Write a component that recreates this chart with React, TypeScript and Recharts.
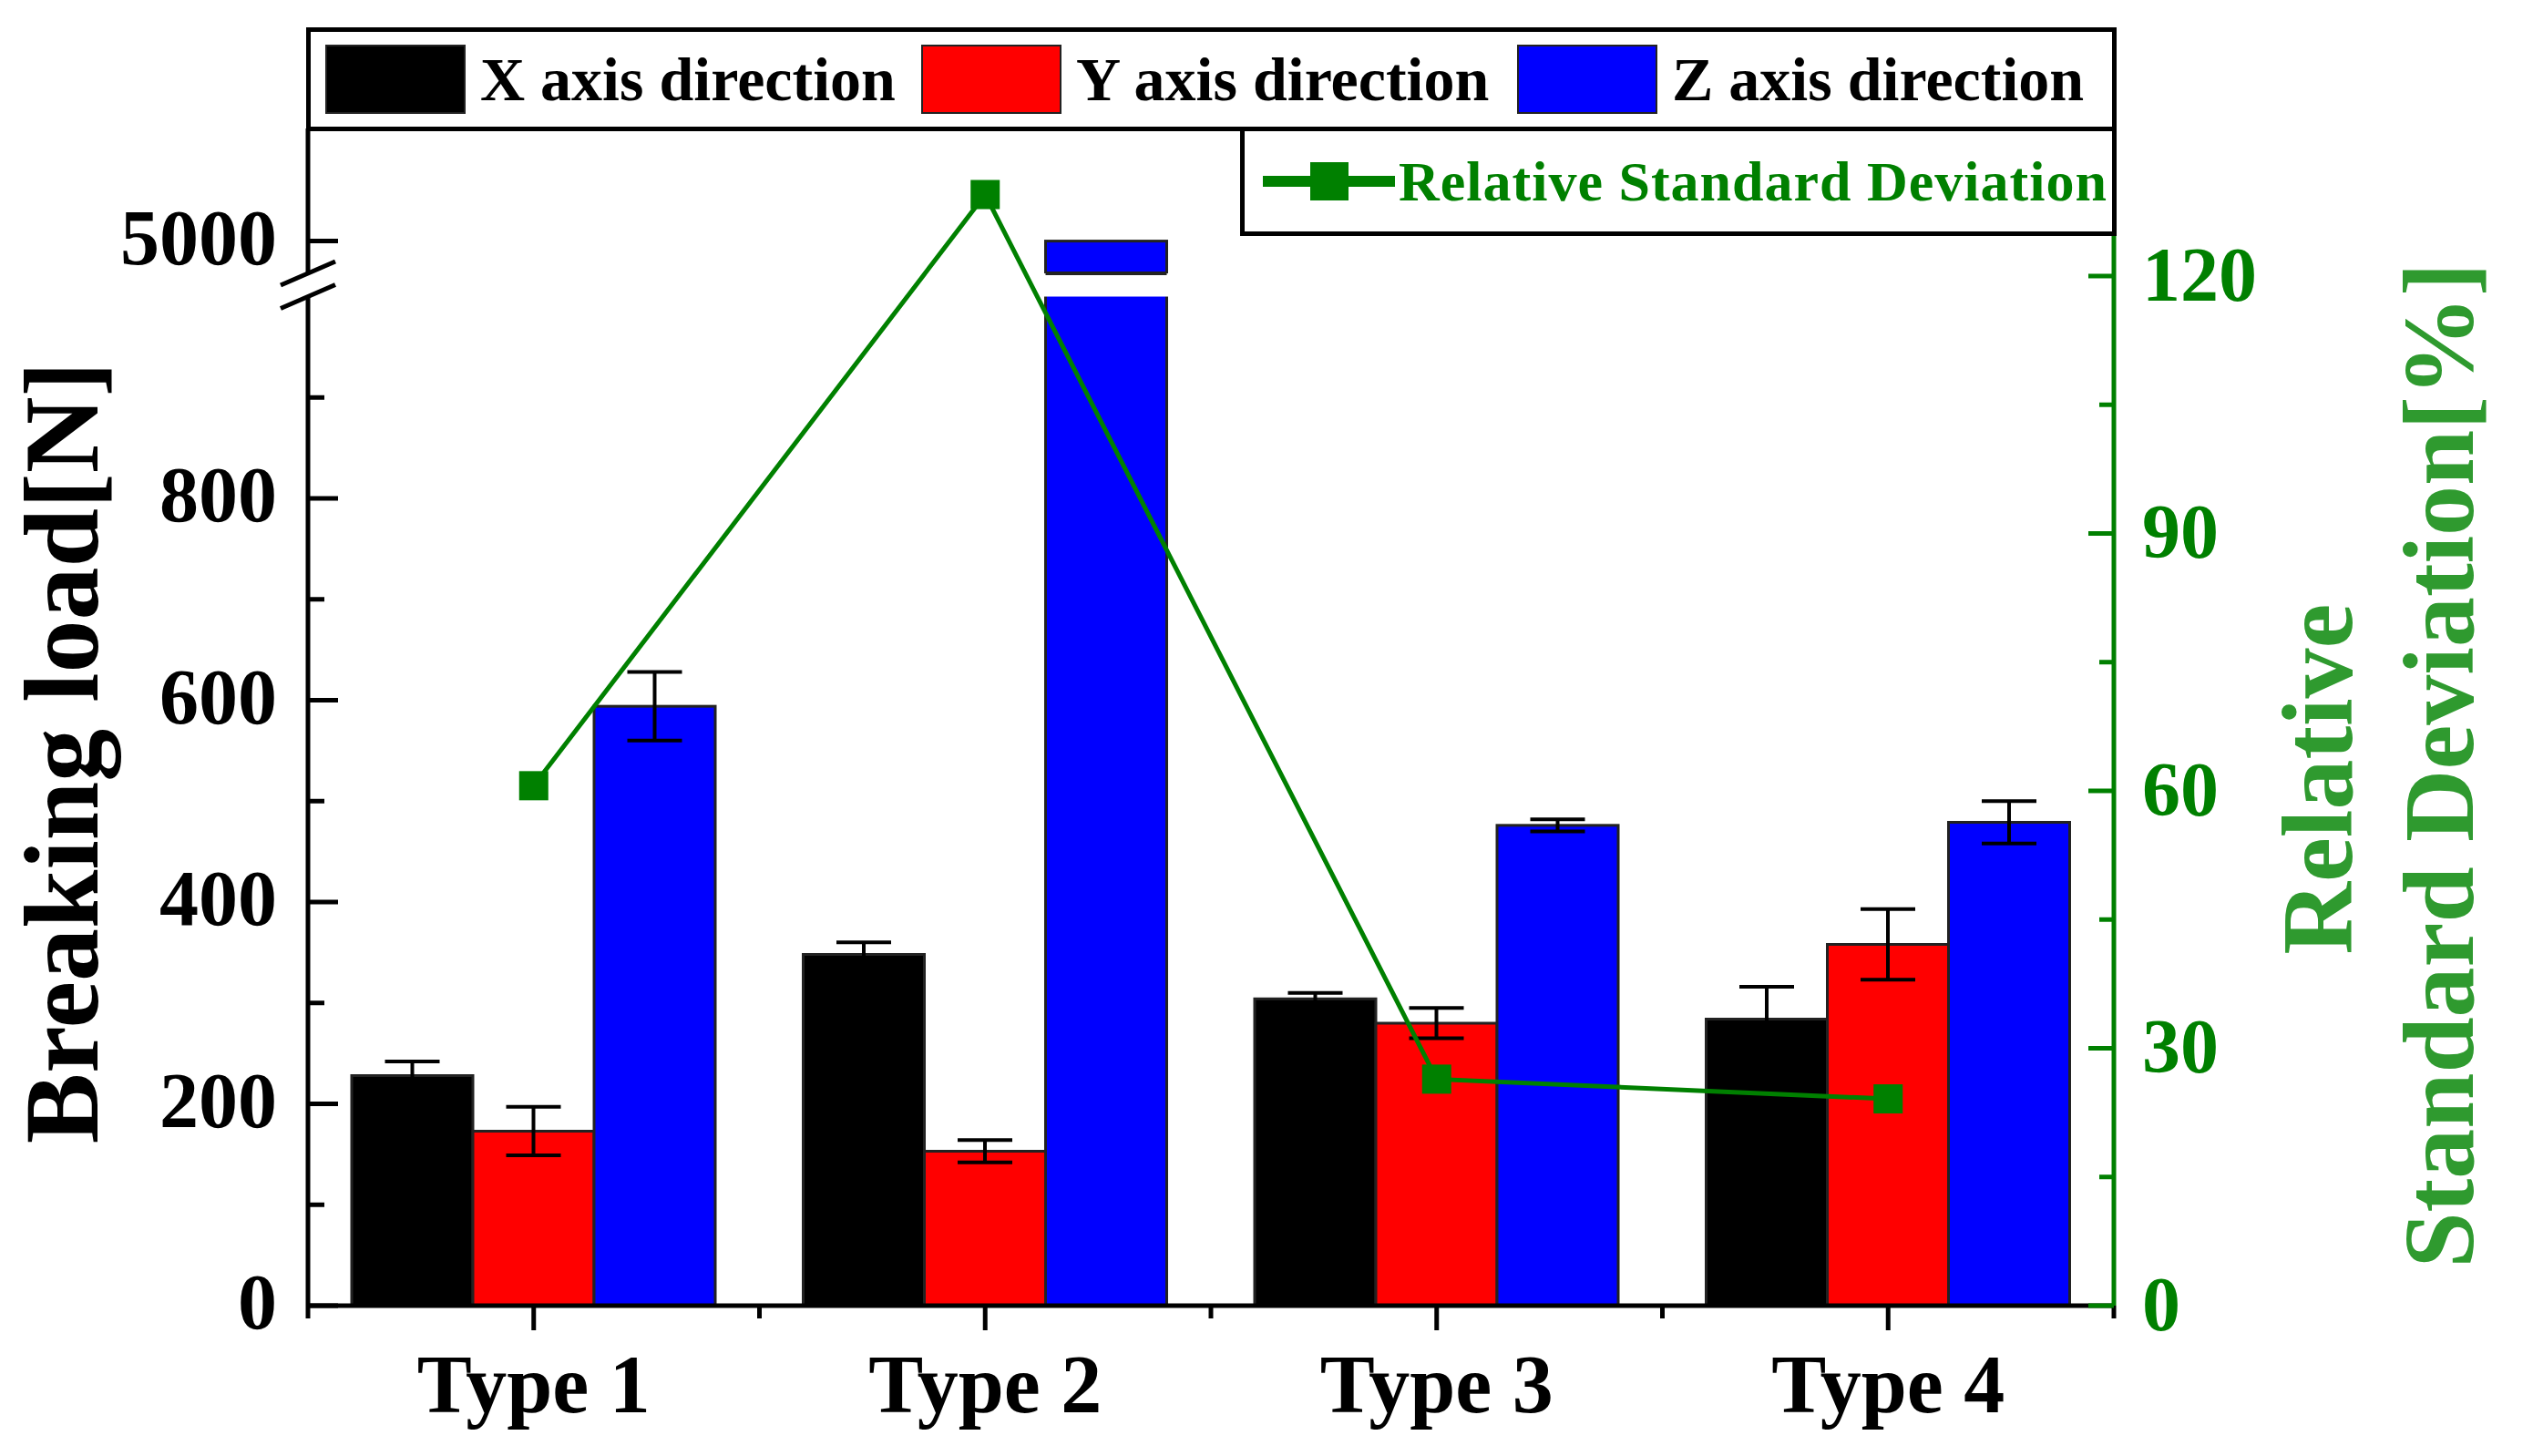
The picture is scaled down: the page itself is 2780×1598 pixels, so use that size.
import React from 'react'
import { ComposedChart, Bar, Line, XAxis, YAxis, ErrorBar, Legend } from 'recharts'

// values
const categories = ['Type 1', 'Type 2', 'Type 3', 'Type 4']
const xLoad = [228, 348, 304, 284]
const xErr = [14, 12, 6, 32]
const yLoad = [173, 153, 280, 358]
const yErr = [24, 11, 15, 35]
const zLoad = [594, 5000, 476, 479]
const zErr = [34, null, 6, 21]
const rsd = [60.6, 129.5, 26.4, 24.1]

const leftMajorTicks = [0, 200, 400, 600, 800, 5000]
const leftMinorTicks = [100, 300, 500, 700, 900]
const rightMajorTicks = [0, 30, 60, 90, 120]
const rightMinorTicks = [15, 45, 75, 105, 135]

const seriesNames = ['X axis direction', 'Y axis direction', 'Z axis direction']
const lineName = 'Relative Standard Deviation'

// broken left axis: [0, 1000] is linear, then a gap, then the 5000 region
const LOW_END = 1000
const GAP = 23
const HIGH_START = 4968
const toAxis = (v: number) => (v <= LOW_END ? v : LOW_END + GAP + (v - HIGH_START))
const BREAK_TICK = LOW_END + GAP / 2

const W = 2780
const H = 1598
const PLOT_TOP = 141
const PLOT_BOTTOM = 1433
const PLOT_H = PLOT_BOTTOM - PLOT_TOP
const LEFT_W = 338
const RIGHT_W = 460
const LEFT_MAX = 1166.6
const RIGHT_MAX = 137.2

const SERIF = "'Liberation Serif', 'Times New Roman', serif"
const GREEN = '#008000'
const TITLE_GREEN = '#2f9a2f'

const data = categories.map((name, i) => ({
  name,
  xT: toAxis(xLoad[i]),
  xE: xErr[i],
  yT: toAxis(yLoad[i]),
  yE: yErr[i],
  zT: toAxis(zLoad[i]),
  zE: zErr[i],
  rsd: rsd[i],
}))

const leftLabels = new Map(leftMajorTicks.map((v) => [toAxis(v), String(v)]))
const leftTicks = [...leftMajorTicks, ...leftMinorTicks].map(toAxis).concat(BREAK_TICK).sort((a, b) => a - b)
const rightTicks = [...rightMajorTicks, ...rightMinorTicks].sort((a, b) => a - b)

function LeftTick(props: any) {
  const { x, y, payload } = props
  const v = payload.value
  if (v === BREAK_TICK) {
    const half = (GAP / 2) * (PLOT_H / LEFT_MAX)
    return (
      <g>
        <rect x={x - 6} y={y - half} width={12} height={half * 2} fill="#fff" />
        <line x1={x - 30} y1={y - half + 13} x2={x + 30} y2={y - half - 13} stroke="#000" strokeWidth={5} />
        <line x1={x - 30} y1={y + half + 13} x2={x + 30} y2={y + half - 13} stroke="#000" strokeWidth={5} />
      </g>
    )
  }
  const label = leftLabels.get(v)
  if (label === undefined) {
    return <line x1={x} y1={y} x2={x + 18} y2={y} stroke="#000" strokeWidth={5} />
  }
  return (
    <g>
      <line x1={x} y1={y} x2={x + 33} y2={y} stroke="#000" strokeWidth={5} />
      <text x={x - 34} y={y + 25} textAnchor="end" fontSize={86} fontWeight="bold" fontFamily={SERIF} fill="#000">
        {label}
      </text>
    </g>
  )
}

function RightTick(props: any) {
  const { x, y, payload } = props
  const v = payload.value
  if (!rightMajorTicks.includes(v)) {
    return <line x1={x} y1={y} x2={x - 16} y2={y} stroke={GREEN} strokeWidth={5} />
  }
  return (
    <g>
      <line x1={x} y1={y} x2={x - 28} y2={y} stroke={GREEN} strokeWidth={5} />
      <text x={x + 31} y={y + 27} textAnchor="start" fontSize={84} fontWeight="bold" fontFamily={SERIF} fill={GREEN}>
        {v}
      </text>
    </g>
  )
}

function XTick(props: any) {
  const { x, y, payload, index, visibleTicksCount, width } = props
  const off =
    typeof payload.offset === 'number' && payload.offset > 0
      ? payload.offset
      : width && visibleTicksCount
        ? width / visibleTicksCount / 2
        : 0
  const last = index === visibleTicksCount - 1
  return (
    <g>
      <line x1={x} y1={y} x2={x} y2={y + 27} stroke="#000" strokeWidth={5} />
      {off > 0 && <line x1={x - off} y1={y} x2={x - off} y2={y + 14} stroke="#000" strokeWidth={5} />}
      {off > 0 && last && <line x1={x + off} y1={y} x2={x + off} y2={y + 14} stroke="#000" strokeWidth={5} />}
      <text x={x} y={y + 117} textAnchor="middle" fontSize={90} fontWeight="bold" fontFamily={SERIF} fill="#000">
        {payload.value}
      </text>
    </g>
  )
}

function BrokenBar(props: any) {
  const { x, y, width, height, fill, payload } = props
  if (!(height > 0)) return null
  const t = payload?.zT ?? 0
  const bottom = y + height
  const ppu = t > 0 ? height / t : 0
  const broken = t > LOW_END + GAP
  const gTop = bottom - (LOW_END + GAP) * ppu
  const gBot = bottom - LOW_END * ppu
  return (
    <g>
      <rect x={x} y={y} width={width} height={height} fill={fill} stroke="#222" strokeWidth={3} />
      {broken && <rect x={x - 4} y={gTop} width={width + 8} height={gBot - gTop} fill="#fff" />}
      {broken && <line x1={x} x2={x + width} y1={gTop} y2={gTop} stroke="#222" strokeWidth={4} />}
    </g>
  )
}

function SquareDot(props: any) {
  const { cx, cy, index } = props
  if (cx == null || cy == null) return <g key={index} />
  return <rect key={index} x={cx - 16} y={cy - 16} width={32} height={32} fill={GREEN} />
}

function LeftTitle(props: any) {
  const vb = props.viewBox ?? { x: 0, y: PLOT_TOP, width: LEFT_W, height: PLOT_H }
  const bx = vb.x + 107
  const cy = vb.y + vb.height / 2 + 39
  return (
    <text x={bx} y={cy} transform={`rotate(-90, ${bx}, ${cy})`} textAnchor="middle" fontSize={116} fontWeight="bold" fontFamily={SERIF} fill="#000">
      Breaking load[N]
    </text>
  )
}

function RightTitle(props: any) {
  const vb = props.viewBox ?? { x: W - RIGHT_W, y: PLOT_TOP, width: RIGHT_W, height: PLOT_H }
  const b1 = vb.x + 261
  const c1 = vb.y + vb.height / 2 + 68
  const b2 = vb.x + 394
  const c2 = vb.y + vb.height / 2 + 53
  const common = { textAnchor: 'middle' as const, fontSize: 110, fontWeight: 'bold', fontFamily: SERIF, fill: TITLE_GREEN }
  return (
    <g>
      <text x={b1} y={c1} transform={`rotate(-90, ${b1}, ${c1})`} {...common}>
        Relative
      </text>
      <text x={b2} y={c2} transform={`rotate(-90, ${b2}, ${c2})`} {...common}>
        Standard Deviation[%]
      </text>
    </g>
  )
}

function ChartLegend(props: any) {
  const payload: any[] = props.payload ?? []
  const bars = payload.filter((p) => p.type !== 'line')
  const lines = payload.filter((p) => p.type === 'line')
  return (
    <div style={{ position: 'relative', width: W, height: 0 }}>
      <div
        style={{
          position: 'absolute',
          left: 336,
          top: 30,
          width: 1987,
          height: 114,
          border: '5px solid #000',
          boxSizing: 'border-box',
          display: 'flex',
          alignItems: 'center',
          paddingLeft: 16,
          background: '#fff',
        }}
      >
        {bars.map((b) => (
          <div key={b.value} style={{ width: 654, display: 'flex', alignItems: 'center', flex: 'none' }}>
            <span
              style={{ width: 154, height: 76, background: b.color, border: '2px solid #222', boxSizing: 'border-box', flex: 'none' }}
            />
            <span style={{ marginLeft: 16, fontSize: 68, fontWeight: 'bold', fontFamily: SERIF, lineHeight: 1, color: '#000', whiteSpace: 'nowrap' }}>
              {b.value}
            </span>
          </div>
        ))}
      </div>
      <div
        style={{
          position: 'absolute',
          left: 1361,
          top: 139,
          width: 962,
          height: 120,
          border: '5px solid #000',
          boxSizing: 'border-box',
          display: 'flex',
          alignItems: 'center',
          paddingLeft: 20,
          background: '#fff',
        }}
      >
        {lines.map((l) => (
          <div key={l.value} style={{ display: 'flex', alignItems: 'center' }}>
            <svg width={145} height={44} style={{ flex: 'none' }}>
              <line x1={0} y1={22} x2={145} y2={22} stroke={l.color} strokeWidth={12} />
              <rect x={52} y={1} width={42} height={42} fill={l.color} />
            </svg>
            <span style={{ marginLeft: 4, fontSize: 62, fontWeight: 'bold', fontFamily: SERIF, lineHeight: 1, color: GREEN, letterSpacing: 1, whiteSpace: 'nowrap' }}>
              {l.value}
            </span>
          </div>
        ))}
      </div>
    </div>
  )
}

export default function App() {
  return (
    <div style={{ position: 'absolute', left: 0, top: 0, width: W, height: H, background: '#fff' }}>
      <ComposedChart width={W} height={H} data={data} margin={{ top: PLOT_TOP, right: 0, bottom: 0, left: 0 }} barCategoryGap={48} barGap={0}>
        <XAxis
          dataKey="name"
          height={H - PLOT_BOTTOM}
          interval={0}
          tickSize={0}
          tickMargin={0}
          tickLine={false}
          tick={<XTick />}
          axisLine={{ stroke: '#000', strokeWidth: 5 }}
        />
        <YAxis
          yAxisId="left"
          width={LEFT_W}
          type="number"
          domain={[0, LEFT_MAX]}
          allowDataOverflow
          ticks={leftTicks}
          interval={0}
          tickSize={0}
          tickMargin={0}
          tickLine={false}
          tick={<LeftTick />}
          axisLine={{ stroke: '#000', strokeWidth: 5 }}
          label={LeftTitle}
        />
        <YAxis
          yAxisId="right"
          orientation="right"
          width={RIGHT_W}
          type="number"
          domain={[0, RIGHT_MAX]}
          allowDataOverflow
          ticks={rightTicks}
          interval={0}
          tickSize={0}
          tickMargin={0}
          tickLine={false}
          tick={<RightTick />}
          axisLine={{ stroke: GREEN, strokeWidth: 5 }}
          label={RightTitle}
        />
        <Legend
          content={<ChartLegend />}
          wrapperStyle={{ position: 'absolute', left: 0, top: 0, width: W, height: 0, margin: 0, padding: 0 }}
        />
        <Bar yAxisId="left" dataKey="xT" name={seriesNames[0]} fill="#000000" stroke="#222" strokeWidth={3} isAnimationActive={false}>
          <ErrorBar dataKey="xE" width={30} strokeWidth={4} stroke="#000" direction="y" />
        </Bar>
        <Bar yAxisId="left" dataKey="yT" name={seriesNames[1]} fill="#ff0000" stroke="#222" strokeWidth={3} isAnimationActive={false}>
          <ErrorBar dataKey="yE" width={30} strokeWidth={4} stroke="#000" direction="y" />
        </Bar>
        <Bar
          yAxisId="left"
          dataKey="zT"
          name={seriesNames[2]}
          fill="#0000ff"
          stroke="#222"
          strokeWidth={3}
          isAnimationActive={false}
          shape={(p: any) => <BrokenBar {...p} />}
        >
          <ErrorBar dataKey="zE" width={30} strokeWidth={4} stroke="#000" direction="y" />
        </Bar>
        <Line
          yAxisId="right"
          dataKey="rsd"
          name={lineName}
          type="linear"
          stroke={GREEN}
          strokeWidth={5}
          dot={SquareDot}
          activeDot={false}
          legendType="line"
          isAnimationActive={false}
        />
      </ComposedChart>
    </div>
  )
}
